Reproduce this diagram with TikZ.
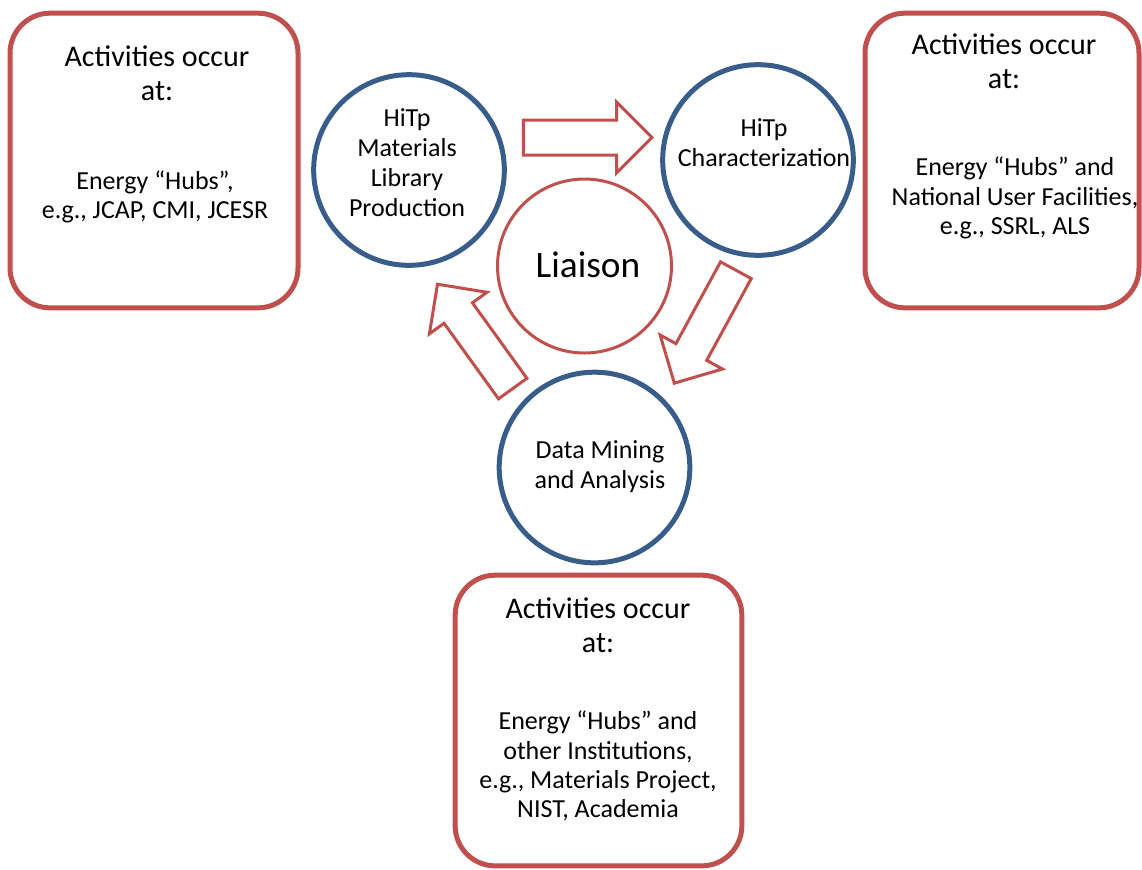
\documentclass[tikz,border=0pt]{standalone}
\usepackage{fontspec}
\setmainfont{Carlito}
\usepackage{tikz}
\usetikzlibrary{shapes.arrows}
\definecolor{hubred}{RGB}{192,80,77}
\definecolor{stageblue}{RGB}{56,93,138}

\begin{document}
\begin{tikzpicture}[x=0.75pt,y=-0.75pt,
  site/.style={draw=hubred,line width=3.75pt,rounded corners=30pt,inner sep=0pt},
  stage/.style={circle,draw=stageblue,line width=3.75pt,minimum size=143pt,inner sep=0pt},
  head/.style={align=center,font=\fontsize{22.5}{25.5}\selectfont},
  body/.style={align=center,font=\fontsize{19.5}{22}\selectfont},
  flow/.style={single arrow,draw=hubred,line width=2.25pt,fill=white,minimum height=96.5pt,
    inner xsep=0pt,inner ysep=12pt,single arrow head extend=13.5pt}]
\useasboundingbox (0,0) rectangle (1142,869);
\node[site,minimum width=216pt,minimum height=221pt] (lhub) at (154,160.5) {};
\node[site,minimum width=205.5pt,minimum height=221pt] (rhub) at (1002,160.5) {};
\node[site,minimum width=215pt,minimum height=218pt] (bhub) at (598.5,720.5) {};
\node[head] (lhead) at (157,73.5) {Activities occur\\at:};
\node[body] (lbody) at (155,197) {Energy “Hubs”,\\e.g., JCAP, CMI, JCESR};
\node[head] (rhead) at (1004,61.5) {Activities occur\\at:};
\node[body] (rbody) at (1015,198) {Energy “Hubs” and\\National User Facilities,\\e.g., SSRL, ALS};
\node[head] (bhead) at (598,625) {Activities occur\\at:};
\node[body] (bbody) at (598,766) {Energy “Hubs” and\\other Institutions,\\e.g., Materials Project,\\NIST, Academia};
\node[stage] (lib) at (409,170) {};
\node[stage] (charz) at (758,160) {};
\node[stage] (mining) at (594.5,467.5) {};
\node[circle,draw=hubred,line width=2.25pt,minimum size=130.5pt] (liaison) at (584.5,266) {};
\node[body,font=\fontsize{19.5}{22.5}\selectfont] (libtxt) at (407,162.5) {HiTp\\Materials\\Library\\Production};
\node[body,font=\fontsize{19.5}{22.5}\selectfont] (charztxt) at (764,143) {HiTp\\Characterization};
\node[body,font=\fontsize{19.5}{22.5}\selectfont] (miningtxt) at (600,466.5) {Data Mining\\and Analysis};
\node[font=\fontsize{28}{32}\selectfont] (liaisontxt) at (588,265) {Liaison};
\node[flow] (toCharz) at (579,137.5) {};
\node[flow,rotate=241.4] (toMining) at (709.3,319) {};
\node[flow,rotate=125.8] (toLib) at (480.2,343.5) {};
\end{tikzpicture}
\end{document}
